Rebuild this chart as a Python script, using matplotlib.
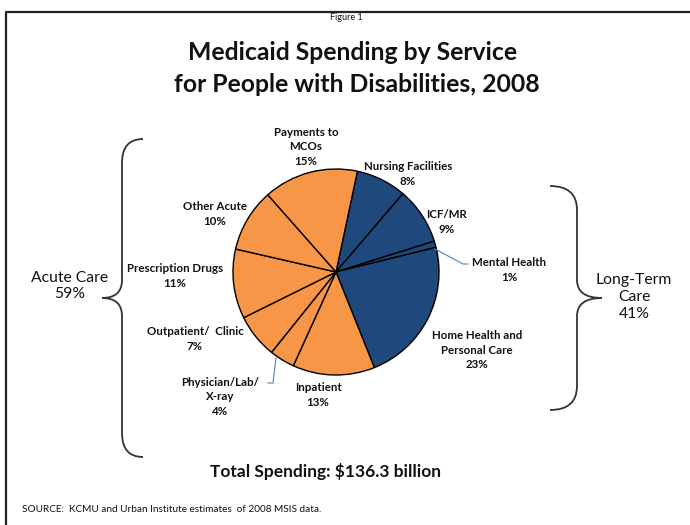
import numpy as np
import matplotlib.pyplot as plt
from matplotlib.path import Path
from matplotlib.patches import PathPatch

# slice data, clockwise from the top
services = ['Nursing Facilities', 'ICF/MR', 'Mental Health', 'Home Health and\nPersonal Care',
            'Inpatient', 'Physician/Lab/\nX-ray', 'Outpatient/  Clinic', 'Prescription Drugs',
            'Other Acute', 'Payments to\nMCOs']
shares = [8, 9, 1, 23, 13, 4, 7, 11, 10, 15]
groups = ['LTC', 'LTC', 'LTC', 'LTC', 'AC', 'AC', 'AC', 'AC', 'AC', 'AC']
group_labels = ['Acute Care\n59%', 'Long-Term\nCare\n41%']

navy = '#1F497D'
orange = '#F79646'
txt = '#111111'

plt.rcParams['font.family'] = ['Lato', 'DejaVu Sans']

fig = plt.figure(figsize=(6.9, 5.25), dpi=100)
ax = fig.add_axes([0, 0, 1, 1])
H = 525

def Y(y):
    return H - y

cx, cy, r = 336, 272, 103
cols = [navy if g == 'LTC' else orange for g in groups]
ax.pie(shares, colors=cols, startangle=78, counterclock=False, center=(cx, Y(cy)), radius=r,
       wedgeprops=dict(edgecolor='black', linewidth=1.0), frame=True)

# slice labels (pixel positions of centre of text block)
label_pos = [(408, 174), (447, 222), (509, 270), (477, 350), (318, 395),
             (220, 397), (195, 339), (175, 276), (215, 214), (306, 147)]
for name, s, (x, y) in zip(services, shares, label_pos):
    ax.text(x, Y(y), f'{name}\n{s}%', ha='center', va='center', fontsize=8.3,
            fontweight='bold', color=txt, linespacing=1.4)

# leader lines
lc = '#4F81BD'
ax.plot([435, 463, 468], [Y(249), Y(264), Y(264)], color=lc, lw=0.8)
ax.plot([276, 273, 268], [Y(358), Y(383), Y(383)], color=lc, lw=0.8)

def brace(x_end, x_mid, x_tip, y_top, y_tip, y_bot, k=24):
    verts = [(x_end, Y(y_top)), (x_mid, Y(y_top)), (x_mid, Y(y_top + k)),
             (x_mid, Y(y_tip - k * 0.75)), (x_mid, Y(y_tip)), (x_tip, Y(y_tip)),
             (x_mid, Y(y_tip)), (x_mid, Y(y_tip + k * 0.75)),
             (x_mid, Y(y_bot - k)), (x_mid, Y(y_bot)), (x_end, Y(y_bot))]
    codes = [Path.MOVETO, Path.CURVE3, Path.CURVE3, Path.LINETO, Path.CURVE3, Path.CURVE3,
             Path.CURVE3, Path.CURVE3, Path.LINETO, Path.CURVE3, Path.CURVE3]
    ax.add_patch(PathPatch(Path(verts, codes), fill=False, edgecolor='#333333', lw=1.3))

brace(143, 122, 102, 139, 298, 457)
brace(550, 577, 602, 186, 298, 410)

ax.text(70, Y(286), group_labels[0], ha='center', va='center', fontsize=11.3,
        color=txt, linespacing=1.25)
ax.text(634, Y(297), group_labels[1], ha='center', va='center', fontsize=11.3,
        color=txt, linespacing=1.25)

# titles
ax.text(346, Y(18), 'Figure 1', ha='center', va='center', fontsize=6.5, color=txt)
ax.text(353, Y(52), 'Medicaid Spending by Service', ha='center', va='center',
        fontsize=17.8, fontweight='bold', color=txt)
ax.text(357, Y(85), 'for People with Disabilities, 2008', ha='center', va='center',
        fontsize=17.8, fontweight='bold', color=txt)
ax.text(325, Y(472), 'Total Spending: $136.3 billion', ha='center', va='center',
        fontsize=12.5, fontweight='bold', color=txt)
ax.text(22, Y(510), 'SOURCE:  KCMU and Urban Institute estimates  of 2008 MSIS data.',
        ha='left', va='center', fontsize=7.2, color=txt)

# frame
ax.plot([5.5, 5.5, 690], [Y(525), Y(11.5), Y(11.5)], color='#222222', lw=1.6,
        solid_capstyle='butt')

ax.set_xlim(0, 690)
ax.set_ylim(0, H)
ax.set_aspect('equal')
ax.axis('off')
fig.savefig('out.png', dpi=100)
